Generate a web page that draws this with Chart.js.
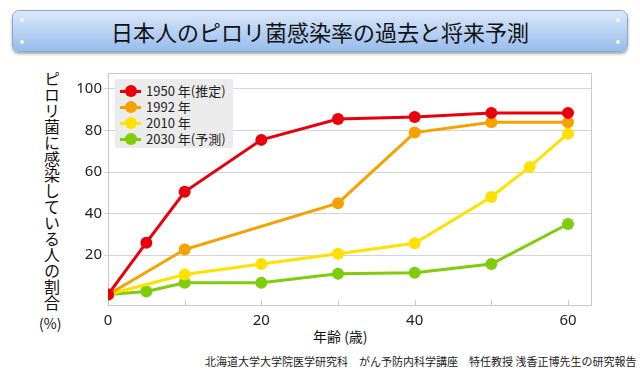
<!DOCTYPE html>
<html>
<head>
<meta charset="utf-8">
<script src="https://cdn.jsdelivr.net/npm/chart.js@4.4.1/dist/chart.umd.min.js"></script>
<style>
  html,body{margin:0;padding:0;background:#fff;}
  body{width:640px;height:380px;position:relative;overflow:hidden;font-family:"Noto Sans CJK JP","Noto Sans",sans-serif;color:#222;}
  #banner{position:absolute;left:12px;top:10px;width:614px;height:40px;border-radius:7px;
    background:linear-gradient(#dce8f9 0%,#bcd4f4 45%,#98bcec 100%);
    border:1px solid #86a8d8;box-shadow:0 2px 3px rgba(0,0,0,0.35);}
  #banner .dot{position:absolute;width:4px;height:4px;border-radius:50%;background:#fff;opacity:.9}
  #title{position:absolute;left:0;top:0;width:100%;line-height:40px;text-align:center;font-size:22px;color:#111;}
  #ylab{position:absolute;left:43px;top:71px;writing-mode:vertical-rl;font-size:16px;line-height:18px;color:#111;}
  #ypct{position:absolute;left:39px;top:313px;font-size:14px;color:#111;}
  #xlab{position:absolute;left:313px;top:326px;font-size:14px;color:#111;white-space:pre;}
  #footer{position:absolute;left:205px;top:353px;font-size:11px;color:#222;white-space:pre;}
  #legend{position:absolute;left:115px;top:79px;width:118px;height:69px;background:#ebebeb;}
  .li{position:absolute;left:0;height:16px;font-size:13px;line-height:16px;color:#222;}
  .li .ln{position:absolute;left:5px;top:6.5px;width:21px;height:3px;}
  .li .pt{position:absolute;left:9.5px;top:2px;width:12px;height:12px;border-radius:50%;}
  .li .tx{position:absolute;left:31px;top:0;white-space:nowrap;}
  #cv{position:absolute;left:0;top:0;}
</style>
</head>
<body>
<div id="banner">
  <div class="dot" style="left:7px;top:7px"></div>
  <div class="dot" style="left:7px;top:29px"></div>
  <div class="dot" style="right:7px;top:7px"></div>
  <div class="dot" style="right:7px;top:29px"></div>
  <div id="title">日本人のピロリ菌感染率の過去と将来予測</div>
</div>
<div id="ylab">ピロリ菌に感染している人の割合</div>
<div id="ypct">(%)</div>
<div id="xlab">年齢 (歳)</div>
<div id="footer">北海道大学大学院医学研究科　がん予防内科学講座　特任教授 浅香正博先生の研究報告</div>
<canvas id="cv" width="640" height="380"></canvas>
<div id="legend"></div>
<script>
// ---- data ----
const seriesNames = ["1950 年(推定)", "1992 年", "2010 年", "2030 年(予測)"];
const seriesColors = ["#e8000b", "#f7a100", "#ffe100", "#7fcc0a"];
const ages1950 = [0, 5, 10, 20, 30, 40, 50, 60];
const values1950 = [1, 26, 50.5, 75.5, 85.5, 86.5, 88.5, 88.5];
const ages1992 = [0, 10, 30, 40, 50, 60];
const values1992 = [1, 22.7, 45, 79, 84, 84];
const ages2010 = [0, 10, 20, 30, 40, 50, 55, 60];
const values2010 = [1, 10.7, 15.7, 20.7, 25.7, 48, 62.5, 78.5];
const ages2030 = [0, 5, 10, 20, 30, 40, 50, 60];
const values2030 = [1, 2.5, 6.7, 6.7, 11, 11.5, 15.7, 35];
const xTickLabels = [0, 20, 40, 60];
const yTickValues = [20, 40, 60, 80, 100];

const allAges = [ages1950, ages1992, ages2010, ages2030];
const allValues = [values1950, values1992, values2010, values2030];

function pts(a, v) { return a.map((x, i) => ({ x: x, y: v[i] })); }

const datasets = seriesNames.map((n, i) => ({
  label: n,
  data: pts(allAges[i], allValues[i]),
  borderColor: seriesColors[i],
  backgroundColor: seriesColors[i],
  pointBackgroundColor: seriesColors[i],
  pointBorderColor: seriesColors[i],
  borderWidth: 3,
  pointRadius: 6,
  pointBorderWidth: 0,
  pointHoverRadius: 6,
  tension: 0,
  order: i
}));

// HTML legend
const lg = document.getElementById('legend');
seriesNames.forEach((n, i) => {
  const d = document.createElement('div');
  d.className = 'li';
  d.style.top = (4 + i * 16) + 'px';
  d.innerHTML = '<div class="ln" style="background:' + seriesColors[i] + '"></div><div class="pt" style="background:' + seriesColors[i] + '"></div><div class="tx">' + n + '</div>';
  lg.appendChild(d);
});

const frame = {
  id: 'frame',
  beforeDatasetsDraw(chart) {
    const { ctx, chartArea: a, scales } = chart;
    ctx.save();
    ctx.strokeStyle = '#c9c9c9';
    ctx.lineWidth = 1;
    ctx.strokeRect(Math.round(a.left) + 0.5, Math.round(a.top) + 0.5, Math.round(a.right - a.left), Math.round(a.bottom - a.top));
    const xs = scales.x;
    for (let v = 10; v <= 60; v += 10) {
      const px = Math.round(xs.getPixelForValue(v)) + 0.5;
      ctx.beginPath();
      ctx.moveTo(px, a.bottom);
      ctx.lineTo(px, a.bottom - 5);
      ctx.stroke();
    }
    ctx.restore();
  }
};

new Chart(document.getElementById('cv'), {
  type: 'line',
  data: { datasets },
  plugins: [frame],
  options: {
    responsive: false,
    animation: false,
    events: [],
    layout: { padding: { left: 60, right: 49, top: 73, bottom: 40 } },
    plugins: { legend: { display: false }, tooltip: { enabled: false } },
    scales: {
      x: {
        type: 'linear',
        min: 0, max: 63,
        afterBuildTicks(s) { s.ticks = xTickLabels.map(v => ({ value: v })); },
        afterFit(s) { s.height = 35; },
        grid: { display: false, drawTicks: false },
        border: { display: false },
        ticks: { padding: 7, color: '#222', font: { size: 15, family: '"Noto Sans", sans-serif' }, maxRotation: 0 }
      },
      y: {
        type: 'linear',
        min: -4, max: 107.7,
        afterBuildTicks(s) { s.ticks = yTickValues.map(v => ({ value: v })); },
        afterFit(s) { s.width = 48; },
        grid: { color: '#d4d4d4', drawTicks: true, tickLength: 4, lineWidth: 1 },
        border: { display: false },
        ticks: { padding: 2, color: '#222', font: { size: 15, family: '"Noto Sans", sans-serif' } }
      }
    }
  }
});
</script>
</body>
</html>
